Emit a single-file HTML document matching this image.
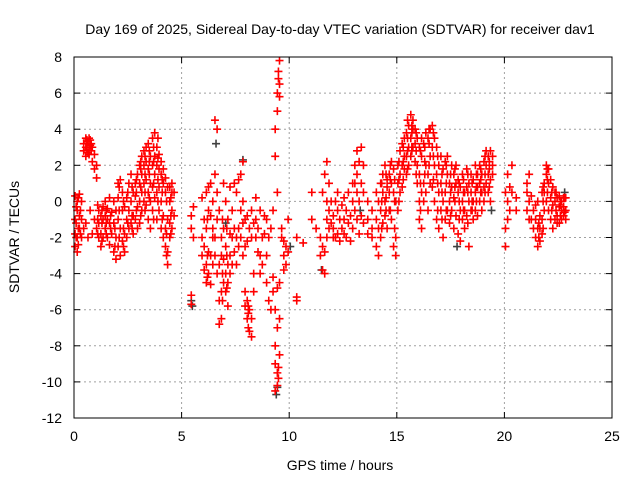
<!DOCTYPE html>
<html><head><meta charset="utf-8"><style>
body{margin:0;background:#fff;}
svg{display:block;font-family:"Liberation Sans",sans-serif;}
</style></head><body>
<svg id="chart" width="640" height="480" viewBox="0 0 640 480" xmlns="http://www.w3.org/2000/svg">
<rect width="640" height="480" fill="#fff"/>
<text x="340" y="34" font-size="14" text-anchor="middle">Day 169 of 2025, Sidereal Day-to-day VTEC variation (SDTVAR) for receiver dav1</text>
<text x="340" y="470" font-size="14" text-anchor="middle">GPS time / hours</text>
<text x="0" y="0" font-size="14" text-anchor="middle" transform="translate(19,237) rotate(-90)">SDTVAR / TECUs</text>
<g id="grid"></g><g id="ticks"></g><g id="marks"></g>
<rect x="74" y="57" width="538" height="361" fill="none" stroke="#000" stroke-width="1"/>
</svg>
<script>
const xTicks=[0,5,10,15,20,25];
const yTicks=[8,6,4,2,0,-2,-4,-6,-8,-10,-12];
const hours=[0.05,0.15,0.25,0.35,0.45,0.55,0.65,0.75,0.85,0.95,1.05,1.15,1.25,1.35,1.45,1.55,1.65,1.75,1.85,1.95,2.05,2.15,2.25,2.35,2.45,2.55,2.65,2.75,2.85,2.95,3.05,3.15,3.25,3.35,3.45,3.55,3.65,3.75,3.85,3.95,4.05,4.15,4.25,4.35,4.45,4.55,4.65,5.45,5.55,5.95,6.05,6.15,6.25,6.35,6.45,6.55,6.65,6.75,6.85,6.95,7.05,7.15,7.25,7.35,7.45,7.55,7.65,7.75,7.85,7.95,8.05,8.15,8.25,8.35,8.45,8.55,8.65,8.75,8.85,8.95,9.05,9.15,9.25,9.35,9.45,9.55,9.65,9.75,9.85,9.95,10.35,10.65,11.05,11.25,11.45,11.55,11.65,11.75,11.85,11.95,12.05,12.15,12.25,12.35,12.45,12.55,12.65,12.75,12.85,12.95,13.05,13.15,13.25,13.35,13.45,13.65,13.85,14.05,14.15,14.25,14.35,14.45,14.55,14.65,14.75,14.85,14.95,15.05,15.15,15.25,15.35,15.45,15.55,15.65,15.75,15.85,15.95,16.05,16.15,16.25,16.35,16.45,16.55,16.65,16.75,16.85,16.95,17.05,17.15,17.25,17.35,17.45,17.55,17.65,17.75,17.85,17.95,18.05,18.15,18.25,18.35,18.45,18.55,18.65,18.75,18.85,18.95,19.05,19.15,19.25,19.35,19.45,20.05,20.15,20.25,20.35,20.55,21.05,21.15,21.25,21.35,21.45,21.55,21.65,21.75,21.85,21.95,22.05,22.15,22.25,22.35,22.45,22.55,22.65,22.75,22.85];
const sdtvar=[[-2.5,-1,0.3,-1.8],[-2.8,-0.5,0,-2],[-1.5,-0.8,0.4],[-1,-2,0],[3.2,2.8,-1.5],[3.5,3,2.5,-1.2],[3.3,2.7,-2],[3.1,3.4,-0.5],[2.2,3,-1.8],[1.8,2.6,-1],[1.3,2,-1.5],[-0.5,-2,-1.2],[-1.8,-0.8,-2.5],[-1,-0.3,-2],[-1.5,0,-0.8],[-2,-1,-0.4],[-1.2,-2.4,0.2],[-0.6,-1.8],[-2.8,-1.2,0],[-3.2,-2,-0.5],[-2.5,-1,1,0.2],[-3,-1.5,1.2],[-2.2,-0.5,0.5],[-1.8,-0.3,-2.8],[-1,0.2,-2],[-0.5,1,-1.5],[0,-1.2,1.5],[-1.8,0.5,-0.8],[-1,1,0.3],[-0.3,1.5,-1.5],[0,2,-1.2,1],[0.5,2.5,-0.5,1.5],[1,2.8,0,2],[-0.2,1.2,2.2,3],[0.5,1.8,3.2,-1],[1,2.5,0,-1.5],[2,3.5,0.8,-0.5],[1.5,3.8,0.2,2.5],[0.5,2,3,-1],[0.8,1.8,-0.5,2.6],[0,1.5,-1.5,2.2],[-0.8,1,-2,1.8],[-1.5,0.5,-2.5,1.3],[-2.8,-1,-3.5,0.8],[-1.2,0,0.8,-2],[-0.5,0.5,1,-1.5],[0.5,-0.8],[-5.2,-5.7,-0.8,-1.5],[-0.3,-2],[-2,-3,0.2],[-2.5,-3.8,-1],[-3.5,-4.5,0.5,-1.5],[-4,-2.8,0.8,-0.5],[-3,-4.6,1,-0.8],[-2,-3.5,0,-1.5],[4.5,1.5,-3,-2],[4,-4,-1,0.5],[-5.5,-6.8,-3.5,-0.5],[-6.5,-5,-3,-2],[-4.5,-3.2,-1.5,1],[-5,-4,-2.5,0],[-4.5,-5.8,-3.5,-1],[-4,-3,-1.8,0.8],[-3.5,-2,-0.5],[-2.8,-1.5,1],[-2,-3.5,0.5],[-1.5,-2.5,1.2],[-0.5,-2,1.5],[-3,0,2.2,-1.2],[-5,-5.8,-1,-2.5],[-5.5,-6.5,-0.8,-2.2],[-6,-7.2,-1.5],[-6.5,-7.5,-0.5,-2],[-5,-4,-1.2],[-1,-2,0.2],[-1.5,-2.8],[-3,-4,-0.5],[-2,-3.5],[-0.8,-1.8],[-3,-4.5,-1],[-5.5,-2],[-6,-1.5],[-5,-4.2,-0.5],[-10.5,-9,-8,-6,2.5,4],[-10.2,-9.5,-7,-4.8,5,6,0.5],[-8.5,-6.5,5.8,6.5,7.8,-4.5],[-2,-1.5],[-3,-3.8,-2.2],[-2.5,-3.5],[-1,-2.8],[-5.3,-5.5,-2],[-2.3],[-1,0.5],[-1.5],[-3,-2],[-3.8,-2.5,0.5],[-2.8,-4,1.5],[-1,-2,0,2.2],[-0.5,-1.5,1],[-1.2,0],[-1.5,-0.8,-2],[-2,0],[-0.5,-1.8,0.5],[-1,-2.2],[-0.2,-1.5],[-1,-1.8,0.2],[-0.5,-2],[-1.2,0.5],[-0.8,-2.2],[0,-1.5,1],[2,1,-0.5],[1.5,0.5,-1,2.8],[2.2,0,-1.8],[1,3,-0.8],[0.5,-1.2,2],[-1,-1.8,0],[-2,-1.5,-0.5],[-2.5,-1,0.5],[-3,-1.5,0],[-2,-0.5,1],[-1.2,0.5,1.5],[-0.8,0,2],[-1.5,0.8,1.2],[0.5,1.5,-0.5],[-1,1,2.2],[-2.5,0.5,1.8],[-3,-2,0],[1,2,-0.5],[1.5,2.8,0.5],[2,3.2,0.8],[1.8,2.5,3.5],[2.5,3.8,1.5],[3,4.2,2],[3.5,4.8,2.5],[4,4.5,3],[3.2,4,2.2],[2,3.5,1],[1.5,3,0,-1],[0.5,2.5,-1.5,3.5],[1,3.2,0],[2,3.8,0.5],[1.5,3.5,-0.5],[2.5,4,1],[3,4.2,0.8],[2,3.5,0],[1.5,3,-1],[0.5,2,-1.5],[1,2.5,-0.5],[0,1.8,-2],[0.5,2.2,-1],[1.5,-0.5,2.5],[0,1,-1.2],[-0.5,0.8,2],[0.2,1.5,-1.5],[1,2,-0.8],[0.5,1.2,-1.8],[-0.5,0.8,-2.2],[0,1.5,-1],[-0.5,0.5,-1.5],[0.8,1.8,-0.8],[0,1,-2.5],[-0.5,0.5,1.5],[0,1.2,-1],[0.5,2,-0.5],[-0.8,0.8,1.5],[0,1,2],[0.5,1.5,-0.5],[0.8,2.2,0],[1,2,2.8],[0.5,1.5,2.5],[2.8,1.2,0],[2.5,1.5,2],[-1.5,-2.5,0.5],[0,1.5,-1],[-0.5,0.8],[0.5,2],[0.2,-0.5],[-0.5,0.5,1],[0,-1,1.5],[-1,0.3],[-1.5,-0.5],[-2,-1,-0.2],[-2.5,-1.5,0],[-2.2,-0.8,-1.5],[-1.8,-1,0.5],[-0.5,0.5,1],[0,1.5,2],[-0.5,1,1.8],[0.2,1.2,-1],[-0.2,0.8,-1.5],[-1,0,0.5],[-0.8,0.2,-1.2],[-1.2,-0.3,0.3],[-0.5,0,-1],[-0.8,0.2,-0.3],[-0.5,-1,0.2]];
const hoursExtra=[0.1,0.2,0.3,0.6,0.7,0.8,1.1,1.3,1.5,1.7,1.9,2.1,2.3,2.5,2.7,2.9,3.1,3.3,3.5,3.7,3.9,4.1,4.3,4.5,6.2,6.9,7.1,8.1,9.5,14.3,14.5,14.7,14.9,15.1,15.3,15.5,15.7,15.9,16.1,16.3,16.5,16.7,16.9,17.1,17.3,17.5,17.7,17.9,18.1,18.3,18.5,18.7,18.9,19.1,19.3,21.6,21.8,22.0,22.2,22.4,22.6,22.8];
const sdtvarExtra=[[-2,-1.2,-0.3],[-2.4,-1.5,0.2],[-0.5,-1.8],[3.2,2.9,3.4],[3,3.5,2.6],[3.2,2.8],[-1,-1.8,-0.2],[-1.2,-2.2,-0.5],[-1.8,-0.5,-1.2],[-1.5,-0.8],[-2.5,-1.5],[-2,-0.5,0.8],[-1.5,0,-2.5],[-1.2,0.5],[-0.8,0.8,-1.5],[-0.5,0.5,1.2],[0.8,1.8,2.2,-0.8],[1.5,2.5,0.5,-0.5],[1.5,2.2,2.8,0.2],[1,2.2,3,-1],[1.2,2.4,0,3.5],[0.5,1.2,-1],[-1.8,0,-3],[-0.8,0.2,-1.8],[-3,-4.2,-1],[-5.5,-4,-1],[-4.8,-3,-1.5],[-6.2,-5.8,-7],[-9.8,-9.2,6.8,7.2],[-1.5,0,1],[-0.5,1.5,0.2],[-0.5,1.2,2],[-1.5,0,1.2],[1.2,2.2,0],[2.2,3,1.2],[2.8,3.5,4.5,1.8],[3.8,4.2,3,2.8],[2.8,3.8,1.5],[1,2.8,-0.5],[1.5,3,2.2],[2,3.2,4],[2.5,3.8,1.2],[1,2.5,-0.5],[0.5,1.5,-1],[1,2,-0.5],[0.5,1.5,-0.8],[0.8,1.8,0],[0,1,-1],[0.5,1.2,-0.5],[0.5,1.5,-1.2],[0,1,-0.5],[0,1.5,0.8],[0.5,1.2,1.8],[1.5,2.5,0.5],[1.8,2.2,0.8],[-2,-1.2],[-1.5,0,0.8],[0.5,1.2,1.8],[0.5,-0.5],[-0.5,0.5],[-0.8,0,-0.2],[-0.6,0.2]];
const grayHours=[5.45,5.5,6.6,7.05,7.85,9.4,9.45,10.05,11.5,13.3,17.8,19.4,22.8];
const grayValues=[-5.5,-5.8,3.2,-1.2,2.3,-10.7,-10.3,-2.5,-3.8,-0.5,-2.5,-0.5,0.5];

const X0=74,X1=612,Y0=57,Y1=418;
const xs=t=>X0+(t-0)/(25-0)*(X1-X0);
const ys=v=>Y1-(v-(-12))/(8-(-12))*(Y1-Y0);
const NS='http://www.w3.org/2000/svg';
const grid=document.getElementById('grid'),ticks=document.getElementById('ticks'),marks=document.getElementById('marks');
function mk(tag,attrs,parent){const e=document.createElementNS(NS,tag);for(const k in attrs)e.setAttribute(k,attrs[k]);parent.appendChild(e);return e;}
xTicks.forEach(t=>{
  const x=xs(t);
  if(t>0&&t<25){const g=mk('line',{x1:x,x2:x,y1:Y0,y2:Y1,stroke:'#a0a0a0','stroke-dasharray':'2,3'},grid);
  
  }
  mk('line',{x1:x,x2:x,y1:Y1,y2:Y1-6,stroke:'#000'},ticks);
  mk('line',{x1:x,x2:x,y1:Y0,y2:Y0+6,stroke:'#000'},ticks);
  const l=mk('text',{x:x,y:Y1+23,'font-size':14,'text-anchor':'middle'},ticks);l.textContent=t;
  
  
});
yTicks.forEach(v=>{
  const y=ys(v);
  if(v>-12&&v<8){const g=mk('line',{x1:X0,x2:X1,y1:y,y2:y,stroke:'#a0a0a0','stroke-dasharray':'2,3'},grid);
  
  }
  mk('line',{x1:X0,x2:X0+6,y1:y,y2:y,stroke:'#000'},ticks);
  mk('line',{x1:X1,x2:X1-6,y1:y,y2:y,stroke:'#000'},ticks);
  const l=mk('text',{x:X0-12,y:y+5,'font-size':14,'text-anchor':'end'},ticks);l.textContent=v;
  
  
});
function plus(x,y,col,name){
  const p=mk('path',{d:`M${x-4},${y}h8M${x},${y-4}v8`,stroke:col,'stroke-width':1.6,fill:'none'},marks);
  
  
}
grayHours.forEach((t,i)=>plus(xs(t),ys(grayValues[i]),'#404040','gray-point'));
hours.forEach((t,i)=>sdtvar[i].forEach(v=>plus(xs(t),ys(v),'#ff0000','sdtvar-point')));
hoursExtra.forEach((t,i)=>sdtvarExtra[i].forEach(v=>plus(xs(t),ys(v),'#ff0000','sdtvar-point')));
</script>
</body></html>
